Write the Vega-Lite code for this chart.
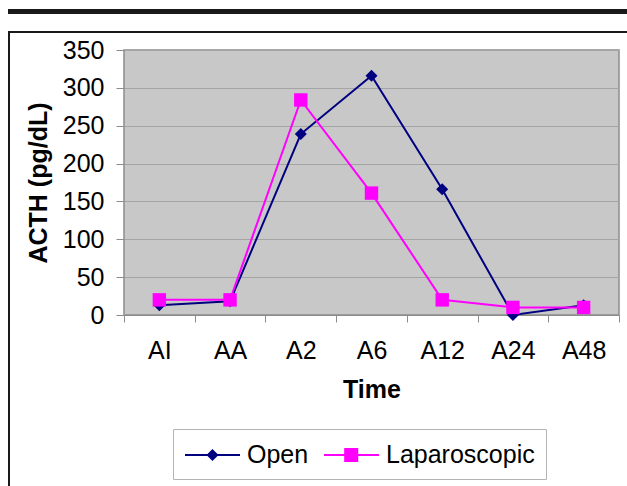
{
  "$schema": "https://vega.github.io/schema/vega-lite/v6.json",
  "padding": {"left": 7, "top": 8, "right": 0, "bottom": 0},
  "config": {"font": "Liberation Sans", "view": {"stroke": null}},
  "spacing": 17,
  "bounds": "flush",
  "resolve": {"scale": {"color": "independent"}, "legend": {"color": "independent"}},
  "vconcat": [
    {
      "width": 620, "height": 5,
      "view": {"fill": "#1a1a1a", "stroke": null},
      "data": {"values": [{}]},
      "mark": {"type": "rule", "strokeOpacity": 0},
      "encoding": {}
    },
    {
      "spacing": 0,
      "bounds": "flush",
      "resolve": {"scale": {"color": "independent"}, "legend": {"color": "independent"}},
      "vconcat": [
        {
          "width": 620, "height": 2,
          "view": {"fill": "#1a1a1a", "stroke": null},
          "data": {"values": [{}]},
          "mark": {"type": "rule", "strokeOpacity": 0},
          "encoding": {}
        },
        {
          "spacing": 114,
          "bounds": "flush",
          "resolve": {"scale": {"color": "independent"}, "legend": {"color": "independent"}},
          "hconcat": [
            {
              "width": 2, "height": 454,
              "view": {"fill": "#1a1a1a", "stroke": null},
              "data": {"values": [{}]},
              "mark": {"type": "rule", "strokeOpacity": 0},
              "encoding": {}
            },
            {
              "spacing": 15,
              "bounds": "flush",
              "resolve": {"scale": {"color": "independent"}, "legend": {"color": "independent"}},
              "vconcat": [
                {
                  "width": 495, "height": 2,
                  "view": {"fill": null, "stroke": null},
                  "data": {"values": [{}]},
                  "mark": {"type": "rule", "strokeOpacity": 0},
                  "encoding": {}
                },
                {
                  "width": 495, "height": 265,
                  "view": {"fill": "#c8c8c8", "stroke": "#8c8c8c", "strokeWidth": 1.5},
                  "data": {"values": [
                    {"time": "AI", "group": "Open", "acth": 13},
                    {"time": "AA", "group": "Open", "acth": 18},
                    {"time": "A2", "group": "Open", "acth": 239},
                    {"time": "A6", "group": "Open", "acth": 316},
                    {"time": "A12", "group": "Open", "acth": 166},
                    {"time": "A24", "group": "Open", "acth": 0},
                    {"time": "A48", "group": "Open", "acth": 13},
                    {"time": "AI", "group": "Laparoscopic", "acth": 20},
                    {"time": "AA", "group": "Laparoscopic", "acth": 20},
                    {"time": "A2", "group": "Laparoscopic", "acth": 284},
                    {"time": "A6", "group": "Laparoscopic", "acth": 161},
                    {"time": "A12", "group": "Laparoscopic", "acth": 20},
                    {"time": "A24", "group": "Laparoscopic", "acth": 10},
                    {"time": "A48", "group": "Laparoscopic", "acth": 10}
                  ]},
                  "encoding": {
                    "x": {
                      "field": "time", "type": "nominal",
                      "sort": ["AI", "AA", "A2", "A6", "A12", "A24", "A48"],
                      "bandPosition": 0.5,
                      "scale": {"type": "band", "paddingInner": 0, "paddingOuter": 0},
                      "axis": {
                        "title": "Time", "labelAngle": 0, "tickBand": "extent",
                        "domainColor": "#8c8c8c", "tickColor": "#8c8c8c", "tickSize": 7,
                        "labelFontSize": 25, "labelPadding": 16, "labelColor": "#000",
                        "titleFontSize": 25, "titleFontWeight": "bold", "titleColor": "#000",
                        "titlePadding": 14, "grid": false
                      }
                    },
                    "y": {
                      "field": "acth", "type": "quantitative",
                      "scale": {"domain": [0, 350], "nice": false},
                      "axis": {
                        "title": "ACTH (pg/dL)",
                        "values": [0, 50, 100, 150, 200, 250, 300, 350],
                        "grid": true, "gridColor": "#a4a4a4", "gridWidth": 1,
                        "domain": false, "tickColor": "#8c8c8c", "tickSize": 8,
                        "labelPadding": 12, "labelFontSize": 25, "labelColor": "#000",
                        "titleFontSize": 25, "titleFontWeight": "bold", "titleColor": "#000",
                        "titlePadding": 11
                      }
                    },
                    "color": {
                      "field": "group", "type": "nominal",
                      "scale": {"domain": ["Open", "Laparoscopic"], "range": ["#000080", "#ff00ff"]},
                      "legend": {
                        "orient": "none", "legendX": 49, "legendY": 379,
                        "direction": "horizontal", "title": null,
                        "symbolSize": 784, "symbolStrokeWidth": 2,
                        "labelFontSize": 25, "labelColor": "#000", "labelOffset": 33,
                        "columnPadding": 11, "padding": 11,
                        "strokeColor": "#b4b4b4", "fillColor": "#ffffff",
                        "encode": {
                          "symbols": {
                            "update": {
                              "shape": {"signal": "datum.value === 'Open' ? 'M-1,0H2.93M0.964,-0.33L1.294,0L0.964,0.33L0.634,0Z' : 'M-1,0H2.93M0.514,-0.43H1.374V0.43H0.514Z'"},
                              "fill": {"scale": "color", "field": "value"},
                              "stroke": {"scale": "color", "field": "value"},
                              "opacity": {"value": 1},
                              "fillOpacity": {"value": 1}
                            }
                          }
                        }
                      }
                    }
                  },
                  "layer": [
                    {"mark": {"type": "line", "strokeWidth": 2}},
                    {
                      "transform": [{"filter": "datum.group === 'Open'"}],
                      "mark": {"type": "point", "shape": "diamond", "filled": true, "opacity": 1, "size": 144}
                    },
                    {
                      "transform": [{"filter": "datum.group === 'Laparoscopic'"}],
                      "mark": {"type": "point", "shape": "square", "filled": true, "opacity": 1, "size": 180}
                    }
                  ]
                }
              ]
            }
          ]
        }
      ]
    }
  ]
}
